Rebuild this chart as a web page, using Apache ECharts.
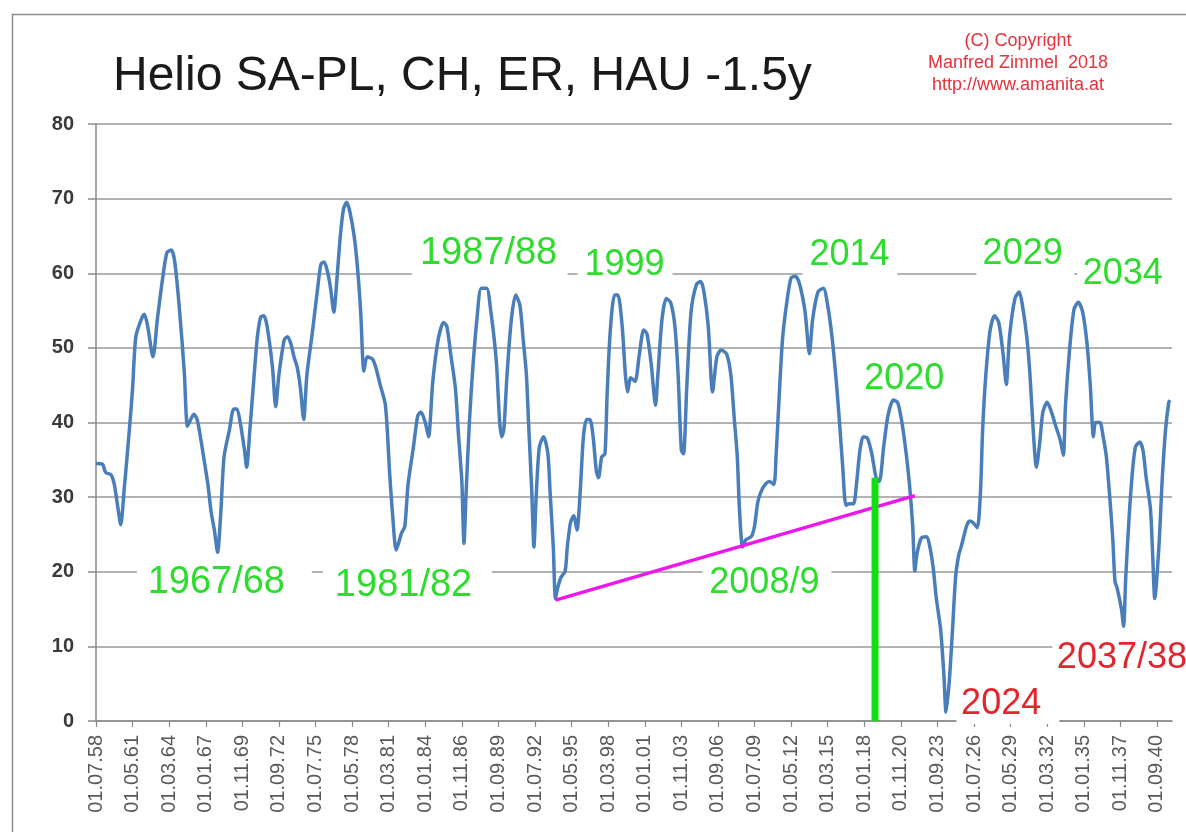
<!DOCTYPE html>
<html>
<head>
<meta charset="utf-8">
<script src="https://cdn.jsdelivr.net/npm/echarts@6.0.0/dist/echarts.min.js"></script>
<style>
html,body{margin:0;padding:0;background:#fff;}
#chart{width:1186px;height:832px;}
</style>
</head>
<body>
<div id="chart"></div>
<script>
// x values are months since 01.07.1958 (the first category label)
const startYear = 1958, startMonth = 7;
const monthsSinceStart = [
0,6,9,14,17,20,23,26,31,34,37,42,45,48,53,57,62,66,70,73,77,82,85,88,91,94,97,100,104,107,110,113,116,119,124,128,131,134,138,140,143,147,150,153,156,159,164,167,170,175,178,181,184,187,190,193,196,201,206,209,212,215,218,221,224,227,230,233,236,240,243,246,249,252,257,260,264,269,
273,276,279,284,287,290,295,299,302,306,309,313,318,323,326,330,334,337,340,342,344,347,350,354,358,363,367,372,375,377,379,382,386,390,394,397,400,402,405,407,409,412,416,420,422,425,427,429,432,436,438,441,444,447,450,453,456,459,462,465,467,470,473,475,478,482,485,489,492,494,497,501,505,509,512,516,520,522,526,530,534,538,541,544,
546,549,553,558,562,565,569,573,577,581,586,590,593,596,598,601,604,609,612,615,618,622,626,630,632,635,638,642,646,650,654,659,663,666,671,676,680,684,688,691,694,697,700,704,707,710,713,717,721,725,728,732,736,741,745,749,753,756,759,761,763,767,772,775,778,781,785,788,790,793,796,799,802,
804,809,812,815,819,822,824,827,831,835,839,843,846,849,854,858,861,865,868,871,874,877,880,884,888,892,896,899,901,905,909,913,917,921,924,927,929,933,936,939,942,945,947,949,953,955,957,960,963,966,970,973,976,980,982,984,988,991,994,997,998
];
const helioValues = [
34.5,34.4,33.3,33.0,31.7,28.9,26.3,30.7,39.0,44.6,51.5,53.8,54.5,52.9,48.8,53.8,59.4,62.8,63.1,61.7,56.1,46.9,39.5,40.4,41.1,40.4,38.1,35.4,31.7,28.0,25.6,22.6,28.0,35.4,39.0,41.8,41.8,40.0,36.3,34.0,39.0,46.4,51.5,54.1,54.3,52.9,47.4,42.1,46.4,51.1,51.5,50.6,48.8,47.4,44.6,40.4,46.4,52.0,58.0,61.2,61.5,60.3,58.0,54.8,59.4,64.9,68.6,69.5,68.2,64.9,60.8,54.8,46.9,48.8,48.5,47.4,45.1,42.3,
33.0,27.0,22.9,25.2,26.1,31.7,36.7,40.9,41.4,40.0,38.1,45.5,51.1,53.4,52.9,48.8,44.6,38.1,32.1,23.8,30.7,40.0,46.9,53.8,58.0,58.0,54.8,48.3,40.4,38.1,39.0,46.4,53.8,57.1,55.7,51.1,46.4,40.0,30.7,23.3,29.8,36.7,38.1,35.8,30.7,23.3,16.4,17.8,19.2,20.1,23.3,26.6,27.5,25.6,30.7,38.1,40.4,40.4,38.1,33.5,32.6,35.4,35.8,43.7,52.4,57.1,57.1,52.9,46.4,44.1,46.0,45.5,49.2,52.4,51.9,47.8,42.3,46.0,53.8,56.6,56.1,52.9,46.4,36.3,
35.8,44.6,54.8,58.5,58.9,57.5,52.9,44.1,48.8,49.7,49.2,46.4,40.9,35.4,28.4,23.3,24.3,24.7,26.1,29.3,30.7,31.7,32.1,31.7,35.4,43.7,51.1,56.1,59.4,59.6,58.5,54.8,49.2,53.8,57.5,58.0,55.7,51.5,45.5,40.0,34.0,28.9,29.1,29.1,32.1,36.3,38.1,37.9,35.8,32.6,32.1,36.7,40.9,43.0,42.7,40.0,35.8,31.7,26.1,20.1,22.4,24.5,24.7,23.3,20.6,16.4,12.2,6.2,1.2,5.3,12.2,19.5,22.4,
23.3,26.1,26.8,26.6,25.9,30.7,39.0,46.4,52.4,54.3,53.4,49.2,45.1,51.5,56.6,57.5,55.7,51.5,46.4,39.0,34.0,37.2,41.4,42.7,41.4,39.5,37.7,35.6,42.3,50.1,55.2,56.1,54.8,50.6,45.1,38.1,40.0,40.0,38.1,35.4,30.3,24.3,18.7,17.8,15.0,12.7,19.2,27.0,33.0,36.7,37.4,36.3,32.6,28.4,22.4,16.4,23.8,32.6,39.0,42.7,43.0
];
// magenta trend line (two points) and green marker bar
const trendMonths = [427, 761];
const trendValues = [16.2, 30.2];
const markerMonths = [724, 724];
const markerValues = [0, 32.6];
// tick labels every 34 months
const tickStep = 34;
const tickMonths = [];
for (let m = 0; m <= 986; m += tickStep) tickMonths.push(m);

// annotations: text, month, value (left-middle anchor), colour, font size
const annotations = [
  ['1967/68', 48, 18.5, '#2ddc2d', 38],
  ['1981/82', 222, 18.2, '#2ddc2d', 38],
  ['1987/88', 301, 62.7, '#2ddc2d', 38],
  ['1999', 454, 61.1, '#2ddc2d', 36],
  ['2014', 663, 62.4, '#2ddc2d', 36],
  ['2020', 714, 45.8, '#2ddc2d', 36],
  ['2029', 824, 62.6, '#2ddc2d', 36],
  ['2034', 917, 59.9, '#2ddc2d', 36],
  ['2008/9', 570, 18.5, '#2ddc2d', 36],
  ['2024', 804, 2.3, '#e3262e', 36],
  ['2037/38', 893, 8.4, '#e3262e', 36]
];
// white boxes behind annotations that hide gridlines: value, from month, to month
const gaps = [
  [20, 38, 200.6], [20, 210.8, 367.8], [20, 563.8, 683.5],
  [60, 293.5, 438.3], [60, 447.6, 535.8], [60, 656.6, 744.8], [60, 818.2, 909.2], [60, 912, 1003],
  [10, 888.8, 1003],
  [0, 799.6, 895.3]
];

function fmtMonth(m) {
  const t = (startMonth - 1) + m;
  const mo = t % 12 + 1;
  const yr = (startYear + Math.floor(t / 12)) % 100;
  return '01.' + String(mo).padStart(2, '0') + '.' + String(yr).padStart(2, '0');
}

const chart = echarts.init(document.getElementById('chart'), null, {renderer: 'canvas'});
const FONT = '"Liberation Sans", Arial, sans-serif';
const option = {
  animation: false,
  backgroundColor: '#ffffff',
  grid: {left: 96, right: 14, top: 124, bottom: 111, containLabel: false},
  xAxis: {
    type: 'value', min: 0, max: 1000, interval: tickStep,
    axisLine: {show: true, lineStyle: {color: '#8a8a8a', width: 1.5}},
    axisTick: {show: true, length: 6, customValues: tickMonths, lineStyle: {color: '#8a8a8a', width: 1.2}},
    axisLabel: {
      rotate: 90, margin: 14, fontSize: 20, color: '#595959', fontFamily: FONT,
      customValues: tickMonths, formatter: v => fmtMonth(v)
    },
    splitLine: {show: false}
  },
  yAxis: {
    type: 'value', min: 0, max: 80, interval: 10,
    axisLine: {show: true, lineStyle: {color: '#8a8a8a', width: 1.5}},
    axisTick: {show: true, length: 8, lineStyle: {color: '#8a8a8a', width: 1.5}},
    axisLabel: {margin: 22, fontSize: 20, color: '#3a3a3a', fontFamily: FONT, fontWeight: 'bold'},
    splitLine: {show: true, lineStyle: {color: '#9a9a9a', width: 1.5}}
  },
  series: [
    {
      type: 'line', name: 'Helio', z: 3,
      data: monthsSinceStart.map((m, i) => [m, helioValues[i]]),
      showSymbol: false, smooth: 0.25,
      lineStyle: {color: '#4a7ebb', width: 3.5}
    },
    {
      type: 'line', name: 'trend', z: 4,
      data: trendMonths.map((m, i) => [m, trendValues[i]]),
      showSymbol: false,
      lineStyle: {color: '#ee16ee', width: 3.5}
    },
    {
      type: 'line', name: 'marker', z: 5,
      data: markerMonths.map((m, i) => [m, markerValues[i]]),
      showSymbol: false,
      lineStyle: {color: '#10e010', width: 7, cap: 'butt'}
    }
  ]
};
chart.setOption(option);

const g = [];
g.push({type: 'rect', z: 0, silent: true,
  shape: {x: 12.5, y: 14.5, width: 1300, height: 1000},
  style: {fill: null, stroke: '#8c8c8c', lineWidth: 1.5}});
gaps.forEach(([v, m1, m2]) => {
  const p1 = chart.convertToPixel({gridIndex: 0}, [m1, v]);
  const p2 = chart.convertToPixel({gridIndex: 0}, [m2, v]);
  g.push({type: 'rect', z: 1, silent: true,
    shape: {x: p1[0], y: p1[1] - 3, width: p2[0] - p1[0], height: 6},
    style: {fill: '#ffffff'}});
});
annotations.forEach(([t, m, v, c, s]) => {
  const p = chart.convertToPixel({gridIndex: 0}, [m, v]);
  g.push({type: 'text', z: 10, x: p[0], y: p[1],
    style: {text: t, fill: c, font: s + 'px ' + FONT, textAlign: 'left', textVerticalAlign: 'middle', verticalAlign: 'middle'}});
});
g.push({type: 'text', z: 10, x: 113, y: 77,
  style: {text: 'Helio SA-PL, CH, ER, HAU -1.5y', fill: '#1a1a1a', font: '48px ' + FONT, textAlign: 'left', textVerticalAlign: 'middle', verticalAlign: 'middle'}});
const copyLines = ['(C) Copyright', 'Manfred Zimmel  2018', 'http://www.amanita.at'];
copyLines.forEach((t, i) => {
  g.push({type: 'text', z: 10, x: 1018, y: 41 + i * 22,
    style: {text: t, fill: '#e5323c', font: '18px ' + FONT, textAlign: 'center', textVerticalAlign: 'middle', verticalAlign: 'middle'}});
});
chart.setOption({graphic: g});
</script>
</body>
</html>
